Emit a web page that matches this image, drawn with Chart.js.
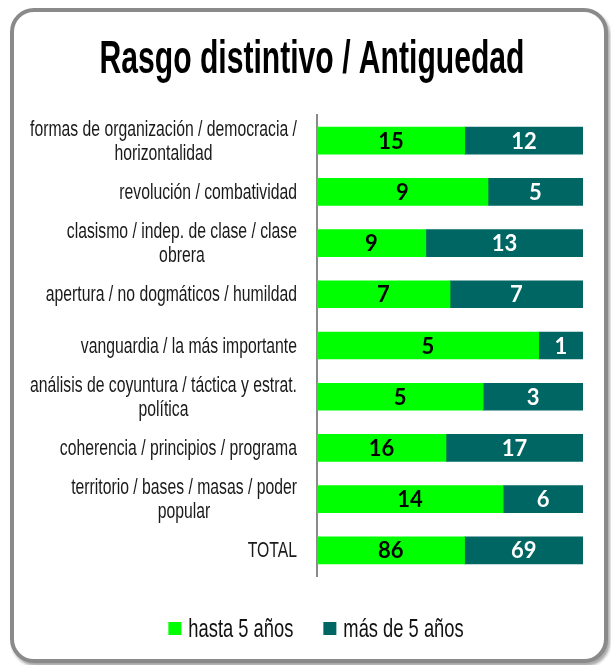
<!DOCTYPE html>
<html>
<head>
<meta charset="utf-8">
<script src="https://cdn.jsdelivr.net/npm/chart.js@4"></script>
<style>
  body { margin: 0; background: #fff; }
  #frame {
    position: absolute; left: 10px; top: 8px; width: 598px; height: 655px;
    box-sizing: border-box; border: 4px solid #8a8a8a; border-radius: 24px;
    box-shadow: 2px 3px 3px rgba(0,0,0,0.35); background: #fff;
  }
  #chart { position: absolute; left: 0; top: 0; }
</style>
</head>
<body>
<div id="frame"></div>
<canvas id="chart" width="611" height="665"></canvas>
<script>
// Data
const categories = [
  ["formas de organización / democracia /", "horizontalidad"],
  "revolución / combatividad",
  ["clasismo / indep. de clase / clase", "obrera"],
  "apertura / no dogmáticos / humildad",
  "vanguardia / la más importante",
  ["análisis de coyuntura / táctica y estrat.", "política"],
  "coherencia / principios / programa",
  ["territorio / bases / masas / poder", "popular"],
  "TOTAL",
];
const hasta5 = [15, 9, 9, 7, 5, 5, 16, 14, 86];
const masDe5 = [12, 5, 13, 7, 1, 3, 17, 6, 69];
const seriesNames = ["hasta 5 años", "más de 5 años"];
const colors = ["#00ff00", "#006664"];
const titleText = "Rasgo distintivo / Antiguedad";

// the original uses a tall condensed face; squeeze a regular one horizontally
const TITLE_FONT = "bold 46px 'Liberation Sans', Arial, sans-serif";
const LABEL_FONT = "22px 'Liberation Sans', Arial, sans-serif";
const LEGEND_FONT = "26px 'Liberation Sans', Arial, sans-serif";

function squeeze(ctx, font, text, target) {
  ctx.font = font;
  return target / ctx.measureText(text).width;
}

function drawSqueezed(ctx, text, x, y, sx, align) {
  ctx.save();
  ctx.translate(x, y);
  ctx.scale(sx, 1);
  ctx.textAlign = align;
  ctx.fillText(text, 0, 0);
  ctx.restore();
}

// percent share for 100% stacked bars
function share(arr, i) {
  return (arr[i] / (hasta5[i] + masDe5[i])) * 100;
}

// Title, category labels and legend
const textLayer = {
  id: "textLayer",
  afterDraw(chart) {
    const ctx = chart.ctx;
    ctx.save();
    ctx.textBaseline = "alphabetic";

    // title
    ctx.fillStyle = "#000";
    const tsx = squeeze(ctx, TITLE_FONT, titleText, 425);
    drawSqueezed(ctx, titleText, 312, 73, tsx, "center");

    // category labels, multi-line ones centred on their widest line
    const yScale = chart.scales.y;
    const lsx = squeeze(ctx, LABEL_FONT, categories[0][0], 267);
    ctx.fillStyle = "#1a1a1a";
    categories.forEach((lab, i) => {
      const lines = Array.isArray(lab) ? lab : [lab];
      const maxW = Math.max(...lines.map((l) => ctx.measureText(l).width * lsx));
      const cx = yScale.right - 20 - maxW / 2;
      const cy = yScale.getPixelForValue(i);
      lines.forEach((l, j) => {
        const ly = cy + (j - (lines.length - 1) / 2) * 24 + 7;
        drawSqueezed(ctx, l, cx, ly, lsx, "center");
      });
    });

    // legend
    const gsx = squeeze(ctx, LEGEND_FONT, seriesNames[0], 105);
    const box = 13, gapText = 7, gapItem = 30;
    const widths = seriesNames.map((s) => ctx.measureText(s).width * gsx);
    const total = widths.reduce((a, w) => a + box + gapText + w, 0) + gapItem;
    let x = 316 - total / 2;
    const ly = 628;
    seriesNames.forEach((s, i) => {
      ctx.fillStyle = colors[i];
      ctx.fillRect(x, ly - 6, box, box);
      x += box + gapText;
      ctx.fillStyle = "#111";
      drawSqueezed(ctx, s, x, ly + 9, gsx, "left");
      x += widths[i] + gapItem;
    });
    ctx.restore();
  },
};

// Draw raw counts inside bars
const valueLabels = {
  id: "valueLabels",
  afterDatasetsDraw(chart) {
    const ctx = chart.ctx;
    const raw = [hasta5, masDe5];
    ctx.save();
    ctx.font = "bold 22px Lato, 'Open Sans', sans-serif";
    ctx.textAlign = "center";
    ctx.textBaseline = "middle";
    chart.data.datasets.forEach((ds, di) => {
      const meta = chart.getDatasetMeta(di);
      ctx.fillStyle = di === 0 ? "#000" : "#fff";
      meta.data.forEach((bar, i) => {
        const p = bar.getCenterPoint();
        ctx.fillText(raw[di][i], p.x, p.y + 1);
      });
    });
    ctx.restore();
  },
};

new Chart(document.getElementById("chart"), {
  type: "bar",
  data: {
    labels: categories,
    datasets: [
      {
        label: seriesNames[0],
        data: hasta5.map((v, i) => share(hasta5, i)),
        backgroundColor: colors[0],
        barThickness: 27,
      },
      {
        label: seriesNames[1],
        data: masDe5.map((v, i) => share(masDe5, i)),
        backgroundColor: colors[1],
        barThickness: 27,
      },
    ],
  },
  options: {
    indexAxis: "y",
    responsive: false,
    animation: false,
    layout: { padding: { left: 0, right: 28, top: 115, bottom: 89 } },
    plugins: {
      title: { display: false },
      legend: { display: false },
      tooltip: { enabled: false },
    },
    scales: {
      x: {
        display: false,
        stacked: true,
        min: 0,
        max: 100,
      },
      y: {
        stacked: true,
        grid: { display: false, drawTicks: false },
        border: { display: true, color: "#8a8a8a", width: 2 },
        ticks: { display: false },
        afterFit(scale) {
          scale.width = 317;
        },
      },
    },
  },
  plugins: [valueLabels, textLayer],
});
</script>
</body>
</html>
